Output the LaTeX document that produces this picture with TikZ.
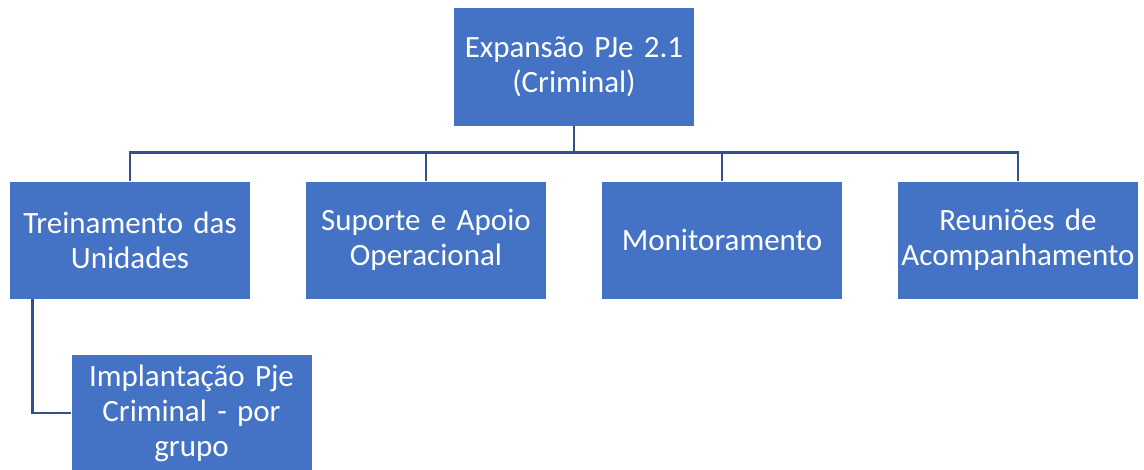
\documentclass[tikz,border=0pt]{standalone}
\usepackage{fontspec}
\setmainfont{Carlito}
\definecolor{boxfill}{HTML}{4472C4}
\definecolor{linecol}{HTML}{2F528F}
\begin{document}
\begin{tikzpicture}[x=1pt,y=-1pt,
  box/.style={draw=white,line width=0.8pt,fill=boxfill,text=white,minimum width=241pt,minimum height=118pt,
    inner sep=0pt,text width=236pt,align=center,font=\fontsize{31}{35}\selectfont},
  conn/.style={draw=linecol,line width=2.8pt}]
\useasboundingbox[fill=white] (0,0) rectangle (1144,470);
\node[box,minimum height=119pt] (top) at (574,66.5) {Expansão PJe 2.1\\(Criminal)};
\node[box] (t1) at (130,240) {Treinamento das\\Unidades};
\node[box] (t2) at (426,240) {Suporte e Apoio\\Operacional};
\node[box] (t3) at (722,240) {Monitoramento};
\node[box] (t4) at (1018,240) {Reuniões de\\Acompanhamento};
\node[box] (c1) at (191.5,413) {Implantação Pje\\Criminal - por\\grupo};
\foreach \n in {t1,t2,t3,t4}{
  \draw[conn] (top.south) -- ++(0,26) -| (\n.north);
}
\draw[conn] ([xshift=23pt]t1.south west) |- (c1.west);
\end{tikzpicture}
\end{document}
